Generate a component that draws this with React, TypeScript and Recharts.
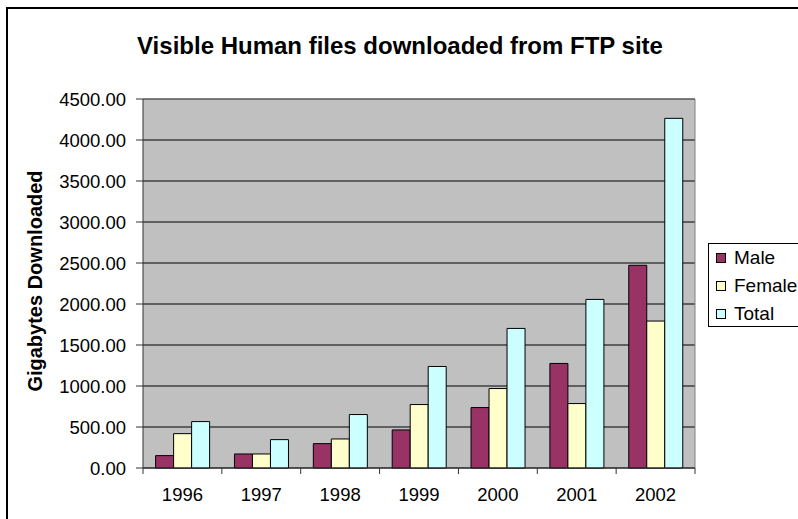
import {
  Bar,
  BarChart,
  CartesianGrid,
  ReferenceLine,
  XAxis,
  YAxis,
} from 'recharts';

const years = ['1996', '1997', '1998', '1999', '2000', '2001', '2002'];
const male = [151, 171, 297, 464, 737, 1275, 2472];
const female = [419, 171, 354, 774, 969, 786, 1792];
const total = [566, 346, 652, 1238, 1702, 2056, 4264];
const yTicks = [0, 500, 1000, 1500, 2000, 2500, 3000, 3500, 4000, 4500];

const series = [
  { key: 'male', name: 'Male', color: '#993366' },
  { key: 'female', name: 'Female', color: '#FFFFCC' },
  { key: 'total', name: 'Total', color: '#CCFFFF' },
];

const data = years.map((year, i) => ({
  year,
  male: male[i],
  female: female[i],
  total: total[i],
}));

const FONT = '"Liberation Sans", Arial, sans-serif';
const W = 798;
const H = 519;
const MARGIN = { top: 99, right: 103, bottom: 0, left: 0 };
const Y_AXIS_W = 143;
const PLOT_W = W - MARGIN.left - MARGIN.right - Y_AXIS_W;
const HALF_BAND = PLOT_W / years.length / 2;

/** Category tick: label centred, tick marks on the category boundaries (Excel style). */
function YearTick(props: any) {
  const { x, y, payload, index } = props;
  const last = index === years.length - 1;
  return (
    <g>
      <line x1={x - HALF_BAND} x2={x - HALF_BAND} y1={y} y2={y + 6} stroke="#333" />
      {last && (
        <line x1={x + HALF_BAND} x2={x + HALF_BAND} y1={y} y2={y + 6} stroke="#333" />
      )}
      <text
        x={x}
        y={y + 33}
        textAnchor="middle"
        fontSize={18.5}
        fontFamily={FONT}
        fill="#000"
      >
        {payload.value}
      </text>
    </g>
  );
}

export default function App() {
  return (
    <div
      style={{
        position: 'absolute',
        left: 0,
        top: 0,
        width: W,
        height: H,
        overflow: 'hidden',
        background: '#fff',
        fontFamily: FONT,
      }}
    >
      <div
        style={{
          position: 'absolute',
          left: 6,
          top: 7,
          width: W,
          height: H,
          borderLeft: '2px solid #000',
          borderTop: '2px solid #000',
        }}
      />
      <div
        style={{
          position: 'absolute',
          left: 0,
          width: 800,
          top: 30,
          textAlign: 'center',
          fontSize: 24,
          fontWeight: 'bold',
          lineHeight: '32px',
        }}
      >
        Visible Human files downloaded from FTP site
      </div>
      <div style={{ position: 'absolute', left: 0, top: 0 }}>
        <BarChart
          width={W}
          height={H}
          data={data}
          margin={MARGIN}
          barCategoryGap="16%"
          barGap={0}
        >
          <CartesianGrid
            vertical={false}
            stroke="#000"
            fill="#C0C0C0"
            fillOpacity={1}
          />
          <CartesianGrid
            horizontal={false}
            verticalPoints={[Y_AXIS_W + PLOT_W]}
            stroke="#808080"
          />
          <ReferenceLine y={4500} stroke="#808080" />
          <XAxis
            dataKey="year"
            height={51}
            tickLine={false}
            tickSize={0}
            tickMargin={0}
            axisLine={{ stroke: '#333' }}
            tick={<YearTick />}
            interval={0}
          />
          <YAxis
            width={Y_AXIS_W}
            domain={[0, 4500]}
            ticks={yTicks}
            tickFormatter={(v: number) => v.toFixed(2)}
            tickSize={7}
            tickMargin={10}
            axisLine={{ stroke: '#333' }}
            tickLine={{ stroke: '#333' }}
            tick={{ fill: '#000', fontSize: 18.5, fontFamily: FONT }}
            label={{
              content: () => (
                <text
                  x={35}
                  y={281}
                  transform="rotate(-90 35 281)"
                  textAnchor="middle"
                  dominantBaseline="central"
                  fontSize={20}
                  fontWeight="bold"
                  fontFamily={FONT}
                  fill="#000"
                >
                  Gigabytes Downloaded
                </text>
              ),
            }}
          />
          {series.map((s) => (
            <Bar
              key={s.key}
              dataKey={s.key}
              name={s.name}
              fill={s.color}
              stroke="#000"
              strokeWidth={1}
              isAnimationActive={false}
            />
          ))}
        </BarChart>
      </div>
      <div
        style={{
          position: 'absolute',
          left: 708,
          top: 243,
          width: 92,
          height: 82,
          border: '1px solid #000',
          background: '#fff',
        }}
      >
        {series.map((s, i) => (
          <div
            key={s.key}
            style={{
              position: 'absolute',
              left: 7,
              top: 3 + i * 28,
              height: 22,
              display: 'flex',
              alignItems: 'center',
              fontSize: 19,
              whiteSpace: 'nowrap',
            }}
          >
            <span
              style={{
                display: 'inline-block',
                width: 8,
                height: 8,
                background: s.color,
                border: '1px solid #000',
                marginRight: 8,
              }}
            />
            {s.name}
          </div>
        ))}
      </div>
    </div>
  );
}
